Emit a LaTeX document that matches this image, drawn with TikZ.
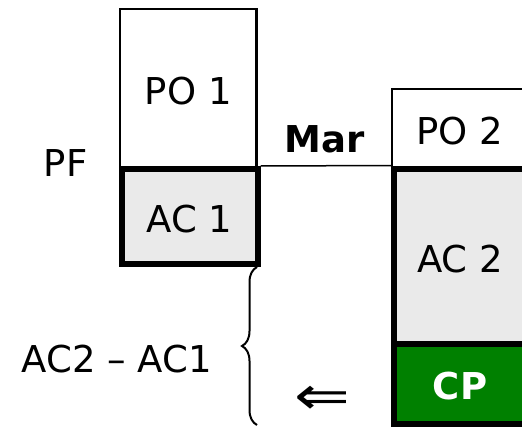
\documentclass[tikz,border=0pt]{standalone}
\usepackage{fontspec}
\setmainfont{DejaVu Sans}
\definecolor{cpgreen}{HTML}{008000}
\definecolor{stone}{HTML}{EAEAEA}
\usetikzlibrary{decorations.pathreplacing}

\begin{document}
\begin{tikzpicture}[x=1pt, y=-1pt,
    every node/.style={font=\fontsize{37}{44}\selectfont, inner sep=0pt},
    thinbox/.style={draw, rectangle, line width=2.5pt, text height=32pt, text depth=0pt},
    stonebox/.style={draw, rectangle, line width=6pt, fill=stone, text height=32pt, text depth=0pt}]
  \useasboundingbox (0,0) rectangle (522,428);
  \clip (0,0) rectangle (522,428);
  % left column
  \node[thinbox, minimum width=136.5pt, minimum height=159pt] (po1) at (188.25,88.5) {PO 1};
  \node[stonebox, minimum width=136pt, minimum height=95pt] (ac1) at (189.5,216.5) {AC 1};
  % right column (cut by the frame)
  \node[thinbox, line width=2pt, minimum width=135pt, minimum height=79pt] (po2) at (459.5,128.5) {PO 2};
  \node[stonebox, minimum width=132pt, minimum height=175pt] (ac2) at (460,256) {AC 2};
  \node[stonebox, fill=cpgreen, text=white, font=\fontsize{37}{44}\selectfont\bfseries,
        minimum width=132pt, minimum height=80pt] (cp) at (460,383.5) {CP};
  % level line
  \draw[line width=1.5pt] (ac1.north east) -- (ac2.north west);
  \node[anchor=base, font=\fontsize{37}{44}\selectfont\bfseries] (mar) at (325,152) {Mar};
  \node[anchor=base] (pf) at (65.5,176) {PF};
  % difference
  \coordinate (brtop) at (257,267);
  \coordinate (brbot) at (257,425);
  \draw[line width=2pt, decorate, decoration={brace, amplitude=15pt}] (brbot) -- (brtop);
  \node[anchor=base] (diff) at (117,372) {AC2 – AC1};
  \node (arr) at (322,400) {\scalebox{1.8}[1.45]{⇐}};
\end{tikzpicture}
\end{document}
